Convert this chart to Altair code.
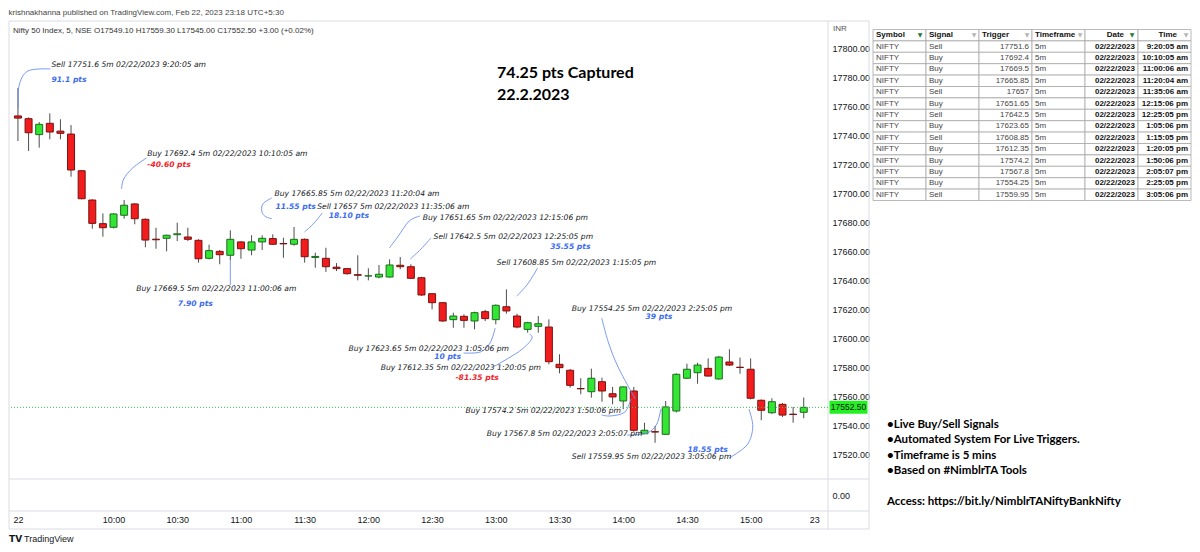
import altair as alt
import pandas as pd

# ---------------- candle data: NIFTY 50, 5-minute bars, 22 Feb 2023 ----------------
start_minute = 555          # 09:15 in minutes after midnight
bar_minutes = 5
opens = [17753.5, 17751.6, 17740.6, 17748.4, 17743.0, 17741.0, 17715.7, 17695.5, 17679.2, 17676.7,
         17685.0, 17692.8, 17682.2, 17668.5, 17669.1, 17671.6, 17670.0, 17667.7, 17655.3, 17660.1,
         17657.4, 17666.6, 17661.0, 17666.6, 17668.9, 17665.5, 17665.0, 17668.4, 17655.9, 17655.3,
         17649.2, 17648.2, 17644.0, 17643.1, 17642.4, 17642.4, 17650.5, 17649.5, 17641.9, 17630.9,
         17624.7, 17613.0, 17615.3, 17612.1, 17618.5, 17613.0, 17621.9, 17615.5, 17606.3, 17608.4,
         17607.9, 17582.2, 17578.1, 17565.5, 17563.3, 17570.2, 17561.9, 17556.9, 17563.8, 17534.3,
         17535.7, 17533.9, 17550.0, 17572.6, 17576.4, 17579.4, 17572.1, 17583.8, 17580.2, 17578.8,
         17557.4, 17548.8, 17554.6, 17547.8, 17549.1]
highs = [17772.8, 17752.5, 17749.3, 17755.3, 17751.2, 17747.2, 17716.2, 17696.0, 17686.3, 17686.5,
         17695.5, 17693.2, 17682.8, 17676.4, 17671.6, 17679.9, 17676.4, 17668.5, 17664.7, 17661.0,
         17674.6, 17667.0, 17671.2, 17671.2, 17671.9, 17669.5, 17676.9, 17669.0, 17659.2, 17662.6,
         17652.0, 17648.5, 17657.4, 17648.4, 17650.7, 17654.6, 17656.2, 17651.2, 17642.5, 17631.0,
         17625.0, 17617.8, 17616.7, 17618.5, 17619.8, 17623.5, 17633.9, 17617.1, 17611.5, 17615.5,
         17613.2, 17589.1, 17579.0, 17572.6, 17579.2, 17573.0, 17566.6, 17567.0, 17566.6, 17541.9,
         17539.7, 17556.9, 17576.0, 17582.6, 17583.3, 17586.3, 17588.0, 17592.6, 17586.8, 17586.3,
         17558.0, 17558.8, 17555.5, 17552.8, 17559.3]
lows = [17736.2, 17729.3, 17731.6, 17737.4, 17737.4, 17711.6, 17696.0, 17675.7, 17670.2, 17676.0,
        17682.6, 17678.8, 17662.9, 17661.9, 17660.1, 17667.2, 17667.2, 17652.3, 17654.6, 17651.2,
        17654.0, 17655.0, 17657.4, 17661.0, 17664.5, 17655.7, 17664.0, 17652.3, 17648.8, 17645.9,
        17646.5, 17644.0, 17640.1, 17640.1, 17641.5, 17642.0, 17647.7, 17641.0, 17629.3, 17620.1,
        17611.5, 17607.4, 17607.4, 17606.3, 17612.0, 17609.8, 17617.1, 17607.0, 17604.0, 17604.0,
        17582.2, 17576.0, 17566.1, 17561.5, 17559.2, 17556.4, 17554.6, 17551.2, 17535.7, 17534.0,
        17528.1, 17533.5, 17549.0, 17572.0, 17568.8, 17573.8, 17571.5, 17581.0, 17575.7, 17558.0,
        17543.6, 17548.0, 17545.9, 17541.9, 17545.0]
closes = [17752.0, 17741.9, 17747.7, 17742.4, 17741.5, 17716.2, 17696.4, 17679.4, 17676.4, 17685.9,
          17691.9, 17682.6, 17667.9, 17668.1, 17671.2, 17672.2, 17668.4, 17655.0, 17660.6, 17657.8,
          17668.4, 17661.9, 17666.6, 17669.1, 17665.0, 17665.3, 17668.4, 17656.4, 17656.6, 17649.5,
          17648.2, 17644.7, 17643.6, 17643.2, 17644.3, 17650.7, 17649.5, 17641.5, 17630.0, 17624.7,
          17612.1, 17615.5, 17612.5, 17617.8, 17613.7, 17622.9, 17619.0, 17607.9, 17610.9, 17610.2,
          17584.0, 17579.9, 17567.7, 17565.3, 17572.6, 17563.8, 17559.7, 17566.6, 17536.7, 17536.7,
          17535.5, 17552.8, 17575.3, 17578.8, 17581.7, 17574.1, 17587.2, 17581.7, 17580.0, 17558.8,
          17550.5, 17556.4, 17547.2, 17547.6, 17552.5]

# ---------------- signal table ----------------
table_cols = ["Symbol", "Signal", "Trigger", "Timeframe", "Date", "Time"]
symbols = ["NIFTY"] * 14
signals = ["Sell", "Buy", "Buy", "Buy", "Sell", "Buy", "Sell", "Buy", "Sell", "Buy", "Buy", "Buy", "Buy", "Sell"]
triggers = ["17751.6", "17692.4", "17669.5", "17665.85", "17657", "17651.65", "17642.5", "17623.65",
            "17608.85", "17612.35", "17574.2", "17567.8", "17554.25", "17559.95"]
timeframes = ["5m"] * 14
dates = ["02/22/2023"] * 14
sig_times = ["9:20:05 am", "10:10:05 am", "11:00:06 am", "11:20:04 am", "11:35:06 am", "12:15:06 pm",
             "12:25:05 pm", "1:05:06 pm", "1:15:05 pm", "1:20:05 pm", "1:50:06 pm", "2:05:07 pm",
             "2:25:05 pm", "3:05:06 pm"]
pts_text = ["91.1 pts", "-40.60 pts", "7.90 pts", "11.55 pts", "18.10 pts", "", "35.55 pts", "10 pts",
            "", "-81.35 pts", "", "", "39 pts", "18.55 pts"]

# annotation anchors (time in minutes, price)
label_t = [570.8, 615.9, 610.7, 675.8, 695.9, 745.6, 750.7, 710.7, 780.4, 725.8, 765.7, 775.8, 815.8, 815.8]
label_p = [17788.4, 17727.4, 17633.9, 17699.9, 17690.7, 17682.9, 17670.0, 17592.6, 17652.3, 17579.7,
           17550.0, 17534.3, 17620.6, 17518.5]
pts_t = [570.8, 615.9, 630.3, 676.3, 701.3, None, 805.6, 751.0, None, 761.0, None, None, 850.5, 870.3]
pts_p = [17778.5, 17719.7, 17624.0, 17690.7, 17684.8, None, 17663.3, 17587.4, None, 17573.0, None, None,
         17614.8, 17523.1]
connectors = [
    [(570.3, 17785.9), (559.7, 17784.5), (555.5, 17774.1), (555.3, 17759.0)],
    [(615.5, 17724.5), (609.0, 17717.6), (604.8, 17710.0), (603.8, 17703.1)],
    [(655.0, 17654.8), (655.0, 17636.9)],
    [(674.5, 17696.9), (670.3, 17692.8), (669.9, 17687.2), (671.7, 17684.0), (674.5, 17682.6)],
    [(698.3, 17686.6), (694.5, 17679.7), (689.9, 17673.4)],
    [(744.3, 17684.5), (739.2, 17681.0), (734.1, 17670.7), (729.9, 17662.4)],
    [(749.4, 17669.3), (744.8, 17661.7), (739.7, 17654.8)],
    [(779.7, 17607.2), (777.3, 17596.9), (772.7, 17590.7), (764.8, 17590.0)],
    [(799.7, 17648.6), (795.0, 17637.6), (789.9, 17629.3)],
    [(795.9, 17603.1), (796.9, 17599.7), (791.3, 17591.4), (778.7, 17580.3)],
    [(843.6, 17558.3), (840.8, 17549.3), (834.3, 17546.6), (829.8, 17547.2)],
    [(857.7, 17551.4), (855.8, 17541.0), (851.2, 17534.8), (841.9, 17533.4)],
    [(829.9, 17614.1), (833.1, 17596.9), (837.8, 17579.7), (845.7, 17558.3)],
    [(899.2, 17551.4), (901.0, 17539.0), (898.3, 17526.6), (889.9, 17517.6)],
]
headline = ["74.25 pts Captured", "22.2.2023"]
headline_t = [780.6, 780.6]
headline_p = [17783.1, 17767.9]

bullets = ["\u2022Live Buy/Sell Signals", "\u2022Automated System For Live Triggers.",
           "\u2022Timeframe is 5 mins", "\u2022Based on #NimblrTA Tools"]
access_line = "Access: https://bit.ly/NimblrTANiftyBankNifty"

# ---------------- frames ----------------
candles = pd.DataFrame({
    "t": [start_minute + bar_minutes * i for i in range(len(opens))],
    "o": opens, "h": highs, "l": lows, "c": closes,
})
candles["dir"] = ["up" if c >= o else "down" for o, c in zip(opens, closes)]

labels_df = pd.DataFrame({
    "t": label_t, "p": label_p,
    "txt": [f"{s} {tr} {tf} {d} {tm}" for s, tr, tf, d, tm in zip(signals, triggers, timeframes, dates, sig_times)],
})
pts_df = pd.DataFrame({"t": pts_t, "p": pts_p, "txt": pts_text})
pts_df = pts_df[pts_df["txt"] != ""].copy()
pts_df["kind"] = ["loss" if s.startswith("-") else "gain" for s in pts_df["txt"]]

conn_rows = []
for cid, pts in enumerate(connectors):
    for k, (tt, pp) in enumerate(pts):
        conn_rows.append({"id": cid, "k": k, "t": tt, "p": pp})
conn_df = pd.DataFrame(conn_rows)

head_df = pd.DataFrame({"t": headline_t, "p": headline_p, "txt": headline})
last_df = pd.DataFrame({"c": [closes[-1]], "lbl": [f"{closes[-1]:.2f}"]})
one = pd.DataFrame({"k": [0]})

# ---------------- scales / axes ----------------
xs = alt.Scale(domain=[553.14, 934.07], nice=False, zero=False)
ys = alt.Scale(domain=[17481.03, 17818.97], nice=False, zero=False)
x_axis = alt.Axis(
    values=[555, 600, 630, 660, 690, 720, 750, 780, 810, 840, 870, 900, 930],
    labelExpr="datum.value == 555 ? '22' : datum.value == 930 ? '23' : floor(datum.value / 60) + ':' + (datum.value % 60 == 0 ? '00' : '30')",
    ticks=False, domain=False, grid=False, labelFlush=False, labelPadding=4,
    labelFontSize=9, labelColor="#131722", labelFont="Liberation Sans", title=None,
)
y_axis = alt.Axis(
    orient="right", values=[17491.4] + list(range(17520, 17801, 20)),
    labelExpr="datum.value < 17500 ? '0.00' : format(datum.value, '.2f')",
    ticks=False, domain=False, grid=False, labelFlush=False, labelPadding=4,
    labelFontSize=9, labelColor="#131722", labelFont="Liberation Sans", title=None,
)


def X(f):
    return alt.X(f, type="quantitative", scale=xs, axis=x_axis)


def Y(f):
    return alt.Y(f, type="quantitative", scale=ys, axis=y_axis)


wicks = alt.Chart(candles).mark_rule(color="#4d4d4d", strokeWidth=1).encode(
    x=X("t"), y=Y("l"), y2=alt.Y2("h"))
bodies = alt.Chart(candles).mark_bar(size=7, strokeWidth=1).encode(
    x=X("t"), y=Y("o"), y2=alt.Y2("c"),
    fill=alt.Fill("dir:N", scale=alt.Scale(domain=["up", "down"], range=["#33e633", "#f21c1c"]), legend=None),
    stroke=alt.Stroke("dir:N", scale=alt.Scale(domain=["up", "down"], range=["#1d6b1d", "#7a1010"]), legend=None),
)
price_line = alt.Chart(last_df).mark_rule(color="#3cc24f", strokeDash=[1, 2], strokeWidth=1).encode(y=Y("c"))
conn = alt.Chart(conn_df).mark_line(interpolate="cardinal", color="#6a8ef0", strokeWidth=0.9).encode(
    x=X("t"), y=Y("p"), detail="id:N", order="k:Q")
lbls = alt.Chart(labels_df).mark_text(
    align="left", baseline="middle", font="DejaVu Sans", fontStyle="italic", fontSize=7.6, color="#131722"
).encode(x=X("t"), y=Y("p"), text="txt:N")
ptsl = alt.Chart(pts_df).mark_text(
    align="left", baseline="middle", font="DejaVu Sans", fontStyle="italic", fontWeight="bold", fontSize=7.6
).encode(x=X("t"), y=Y("p"), text="txt:N",
         color=alt.Color("kind:N", scale=alt.Scale(domain=["gain", "loss"], range=["#3b6cf0", "#f01e2c"]), legend=None))
heads = alt.Chart(head_df).mark_text(
    align="left", baseline="middle", font="Lato", fontWeight="bold", fontSize=16, color="#000000"
).encode(x=X("t"), y=Y("p"), text="txt:N")

legend_line = alt.Chart(one).mark_text(
    align="left", baseline="middle", font="Liberation Sans", fontSize=8, color="#333333",
    text="Nifty 50 Index, 5, NSE  O17549.10  H17559.30  L17545.00  C17552.50  +3.00 (+0.02%)",
).encode(x=alt.value(4), y=alt.value(10))
inr = alt.Chart(one).mark_text(align="left", baseline="middle", font="Liberation Sans", fontSize=8,
                               color="#555555", text="INR").encode(x=alt.value(824), y=alt.value(8))

border_col = "#d9dce3"
segs = [(0, 860, 0, 0), (0, 860, 458, 458), (0, 860, 490, 490), (0, 860, 508, 508),
        (0, 0, 0, 508), (819, 819, 0, 508), (860, 860, 0, 508)]
borders = [alt.Chart(one).mark_rule(color=border_col, strokeWidth=1).encode(
    x=alt.value(a), x2=alt.value(b), y=alt.value(c), y2=alt.value(d)) for a, b, c, d in segs]

tag = alt.Chart(last_df).mark_tick(color="#22f022", orient="horizontal", size=38, thickness=13, opacity=1).encode(
    x=alt.value(839.5), y=Y("c"))
tag_txt = alt.Chart(last_df).mark_text(font="Liberation Sans", fontSize=8.5, color="#111111").encode(
    x=alt.value(839.5), y=Y("c"), text="lbl:N")
footer_logo = alt.Chart(one).mark_text(align="left", baseline="middle", font="DejaVu Sans", fontWeight="bold",
                                       fontSize=9, color="#131722", text="TV").encode(x=alt.value(0), y=alt.value(518))
footer = alt.Chart(one).mark_text(align="left", baseline="middle", font="Liberation Sans",
                                  fontSize=9, color="#131722", text="TradingView").encode(x=alt.value(15), y=alt.value(518))

left = alt.layer(*borders, wicks, bodies, price_line, conn, lbls, ptsl, heads, legend_line, inr,
                 tag, tag_txt, footer_logo, footer).properties(width=819, height=490)

# ---------------- right panel: table + notes ----------------
cell_rows = [{"row": r, "col": c} for r in range(15) for c in table_cols]
cells_df = pd.DataFrame(cell_rows)
table_df = pd.DataFrame({"Symbol": symbols, "Signal": signals, "Trigger": triggers,
                         "Timeframe": timeframes, "Date": dates, "Time": sig_times})
long = table_df.reset_index().melt(id_vars="index", var_name="col", value_name="txt")
long["row"] = long["index"] + 1
body_left = long[long["col"].isin(["Symbol", "Signal", "Timeframe"])]
body_right = long[long["col"] == "Trigger"]
body_bold = long[long["col"].isin(["Date", "Time"])]
hdr = pd.DataFrame({"col": table_cols, "txt": table_cols, "row": [0] * 6,
                    "flt": ["on", "off", "off", "off", "on", "off"]})
hdr_left = hdr[hdr["col"].isin(["Symbol", "Signal", "Trigger", "Timeframe"])]
hdr_right = hdr[hdr["col"].isin(["Date", "Time"])]

xband = alt.Scale(type="band", domain=table_cols, paddingInner=0, paddingOuter=0)
yband = alt.Scale(type="band", domain=list(range(15)), range=[8.5, 179.5], paddingInner=0, paddingOuter=0)


def TX(bp=None):
    if bp is None:
        return alt.X("col:N", scale=xband, axis=None, sort=table_cols)
    return alt.X("col:N", scale=xband, axis=None, sort=table_cols, bandPosition=bp)


TY = alt.Y("row:O", scale=yband, axis=None)

cells = alt.Chart(cells_df).mark_rect(fill="white", stroke="#a8a8a8", strokeWidth=0.8).encode(x=TX(), y=TY)
t_left = alt.Chart(body_left).mark_text(align="left", dx=3, font="Liberation Sans", fontSize=8,
                                        color="#444444").encode(x=TX(0), y=TY, text="txt:N")
t_right = alt.Chart(body_right).mark_text(align="right", dx=-3, font="Liberation Sans", fontSize=8,
                                          color="#444444").encode(x=TX(1), y=TY, text="txt:N")
t_bold = alt.Chart(body_bold).mark_text(align="right", dx=-3, font="Liberation Sans", fontSize=8,
                                        fontWeight="bold", color="#111111").encode(x=TX(1), y=TY, text="txt:N")
h_left = alt.Chart(hdr_left).mark_text(align="left", dx=3, font="Liberation Sans", fontSize=8,
                                       fontWeight="bold", color="#111111").encode(x=TX(0), y=TY, text="txt:N")
h_right = alt.Chart(hdr_right).mark_text(align="right", dx=-14, font="Liberation Sans", fontSize=8,
                                         fontWeight="bold", color="#111111").encode(x=TX(1), y=TY, text="txt:N")
funnel_on = alt.Chart(hdr[hdr["flt"] == "on"]).mark_text(
    align="center", dx=-6, font="DejaVu Sans", fontSize=6, text="\u25BC", color="#1e7b34").encode(x=TX(1), y=TY)
funnel_off = alt.Chart(hdr[hdr["flt"] == "off"]).mark_text(
    align="center", dx=-5, font="DejaVu Sans", fontSize=6, text="\u25BC", color="#b5b5b5").encode(x=TX(1), y=TY)
notes = alt.Chart(one).mark_text(align="left", baseline="top", font="Lato", fontWeight="bold", fontSize=11.5,
                                 lineHeight=15.6, color="#000000", text=bullets).encode(
    x=alt.value(14), y=alt.value(397.5))
access = alt.Chart(one).mark_text(align="left", baseline="middle", font="Lato", fontWeight="bold", fontSize=11.5,
                                  color="#000000", text=access_line).encode(
    x=alt.value(14), y=alt.value(480.7))

right = alt.layer(cells, t_left, t_right, t_bold, h_left, h_right, funnel_on, funnel_off, notes, access).properties(
    width=318, height=490)

chart = alt.hconcat(left, right, spacing=2).properties(
    title=alt.TitleParams("krishnakhanna published on TradingView.com, Feb 22, 2023 23:18 UTC+5:30",
                          anchor="start", fontSize=8, font="Liberation Sans", fontWeight="normal",
                          color="#444444", offset=4),
    padding=0, background="white",
).configure_view(stroke=None)

chart.save("out.html", embed_options={"renderer": "svg", "actions": False})
